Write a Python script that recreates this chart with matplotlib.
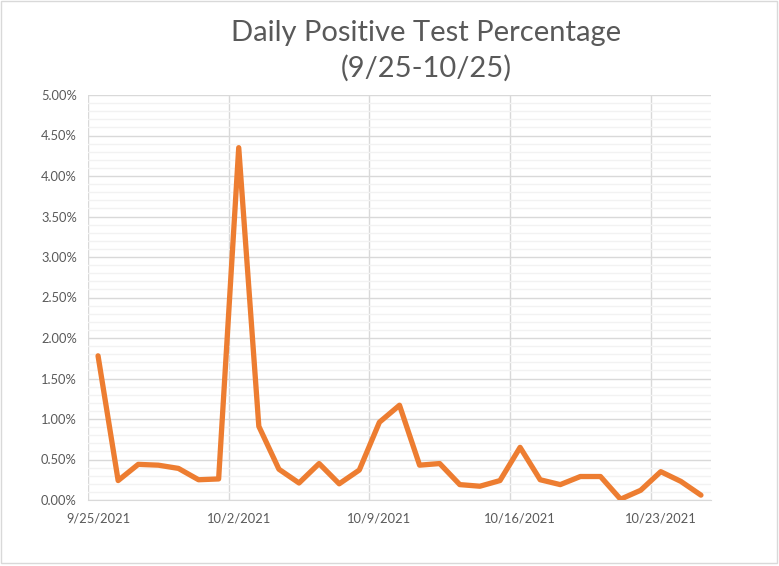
import matplotlib
matplotlib.use("Agg")
import matplotlib.pyplot as plt
import matplotlib.dates as mdates
from matplotlib.patches import Rectangle
from matplotlib.ticker import MultipleLocator, FuncFormatter
import pandas as pd
import numpy as np

# daily positive test percentage, 9/25/2021 .. 10/25/2021
dates = pd.date_range("2021-09-25", "2021-10-25", freq="D")
pct = [1.78, 0.24, 0.44, 0.43, 0.39, 0.25, 0.26, 4.35, 0.91, 0.38,
       0.21, 0.45, 0.20, 0.37, 0.96, 1.17, 0.43, 0.45, 0.19, 0.17,
       0.24, 0.65, 0.25, 0.19, 0.29, 0.29, 0.01, 0.12, 0.35, 0.23,
       0.06]
label_dates = ["2021-09-25", "2021-10-02", "2021-10-09", "2021-10-16", "2021-10-23"]

grey = "#595959"
plt.rcParams['font.family'] = ['Lato', 'DejaVu Sans']

fig = plt.figure(figsize=(7.79, 5.66), dpi=100)
ax = fig.add_axes([88/779, 66/566, 623/779, 405/566])

ax.plot(dates, pct, color="#ED7D31", linewidth=3.8, solid_joinstyle="round",
        solid_capstyle="round", zorder=3)

half = pd.Timedelta(hours=12)
ax.set_xlim(dates[0] - half, dates[-1] + half)
ax.set_ylim(0, 5)

# labels on the day, gridlines on the boundary half a day before
ax.set_xticks(pd.to_datetime(label_dates))
ax.xaxis.set_major_formatter(FuncFormatter(
    lambda v, p: "{d.month}/{d.day}/{d.year}".format(d=mdates.num2date(v))))
ax.set_xticks(pd.to_datetime(label_dates) - half, minor=True)

ax.yaxis.set_major_locator(MultipleLocator(0.5))
ax.yaxis.set_minor_locator(MultipleLocator(0.1))
ax.yaxis.set_major_formatter(FuncFormatter(lambda v, p: "%.2f%%" % v))

ax.grid(True, axis="y", which="minor", color="#F2F2F2", linewidth=1)
ax.grid(True, axis="y", which="major", color="#D9D9D9", linewidth=1)
ax.grid(True, axis="x", which="minor", color="#D9D9D9", linewidth=1)
ax.grid(False, axis="x", which="major")
ax.set_axisbelow(True)

for s in ["top", "right", "left"]:
    ax.spines[s].set_visible(False)
ax.spines["bottom"].set_color("#D9D9D9")

ax.tick_params(axis="both", which="both", length=0, colors=grey, labelsize=9.3)
ax.tick_params(axis="y", pad=8)
ax.tick_params(axis="x", pad=9)

fig.text(426/779, 1 - 51/566, "Daily Positive Test Percentage\n(9/25-10/25)",
         ha="center", va="center", fontsize=21, color=grey,
         linespacing=1.4)

fig.patches.append(Rectangle((0.001, 0.006), 0.996, 0.992, transform=fig.transFigure,
                             fill=False, edgecolor="#D9D9D9", linewidth=1))

fig.savefig("out.png", dpi=100)
